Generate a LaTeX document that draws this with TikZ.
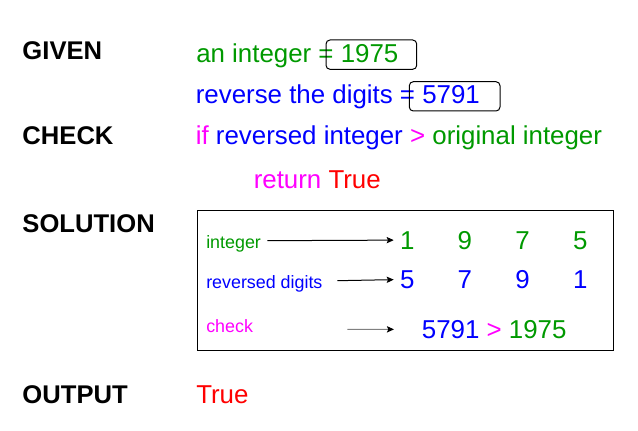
\documentclass[tikz,border=0pt]{standalone}
\usepackage{fontspec}
\setmainfont{Liberation Sans}
\usetikzlibrary{arrows.meta}
\definecolor{numgreen}{RGB}{0,153,0}
\definecolor{numblue}{RGB}{0,0,255}
\definecolor{keypink}{RGB}{255,0,255}
\definecolor{resred}{RGB}{255,0,0}
\tikzset{
  head/.style={anchor=base west, inner sep=0pt, font=\fontsize{19.2pt}{23pt}\selectfont\bfseries},
  txt/.style={anchor=base west, inner sep=0pt, font=\fontsize{19.4pt}{23pt}\selectfont},
  small/.style={anchor=base west, inner sep=0pt, font=\fontsize{13.4pt}{16pt}\selectfont},
  digit/.style={anchor=base, inner sep=0pt, font=\fontsize{19.4pt}{23pt}\selectfont},
  pointer/.style={-{Stealth[length=5.3pt,width=4.7pt,inset=1pt]}, line width=0.75pt},
}

\begin{document}
\begin{tikzpicture}[x=0.75pt,y=-0.75pt]
\useasboundingbox (0,0) rectangle (638,431);
\node[head] (given) at (22.2,60) {GIVEN};
\node[head] (check) at (22.2,145) {CHECK};
\node[head] (solution) at (22.2,232) {SOLUTION};
\node[head] (output) at (22.2,403) {OUTPUT};

\node[txt, numgreen] (num) at (196,63) {an integer = 1975};
\draw[line width=0.75pt, rounded corners=3] (326,40) rectangle (416.7,69.3);
\node[txt, numblue] (rev) at (195.6,104) {reverse the digits = 5791};
\draw[line width=0.75pt, rounded corners=3] (409.3,81.7) rectangle (500,111);

\node[txt] (cond) at (195.6,145) {\textcolor{keypink}{if} \textcolor{numblue}{reversed integer} \textcolor{keypink}{>} \textcolor{numgreen}{original integer}};
\node[txt] (ret) at (253.5,188.3) {\textcolor{keypink}{return} \textcolor{resred}{True}};

\draw[line width=0.75pt] (197.7,210.7) rectangle (613.3,350);
\node[small, numgreen] (lint) at (206,248) {integer};
\node[small, numblue] (lrev) at (206,288) {reversed digits};
\node[small, keypink] (lchk) at (206,332) {check};

\foreach \d [count=\i] in {1,9,7,5}
  \node[digit, numgreen] (o\i) at ({349.5+57.7*\i},249) {\d};
\foreach \d [count=\i] in {5,7,9,1}
  \node[digit, numblue] (r\i) at ({349.5+57.7*\i},288.3) {\d};
\node[txt] (cmp) at (421.6,338.3) {\textcolor{numblue}{5791} \textcolor{keypink}{>} \textcolor{numgreen}{1975}};

\coordinate (a1) at (267.3,240.7);
\coordinate (a2) at (337.3,280.7);
\coordinate (a3) at (347.3,329.3);
\draw[pointer, shorten >=4.5pt] (a1) -- (o1.west);
\draw[pointer, shorten >=4.5pt] (a2) -- (r1.west);
\draw[pointer, shorten >=20.7pt, draw=gray, -{Stealth[length=5.3pt,width=4.7pt,inset=1pt,black]}] (a3) -- (cmp.west);

\node[txt, resred] (res) at (196,403) {True};
\end{tikzpicture}
\end{document}
